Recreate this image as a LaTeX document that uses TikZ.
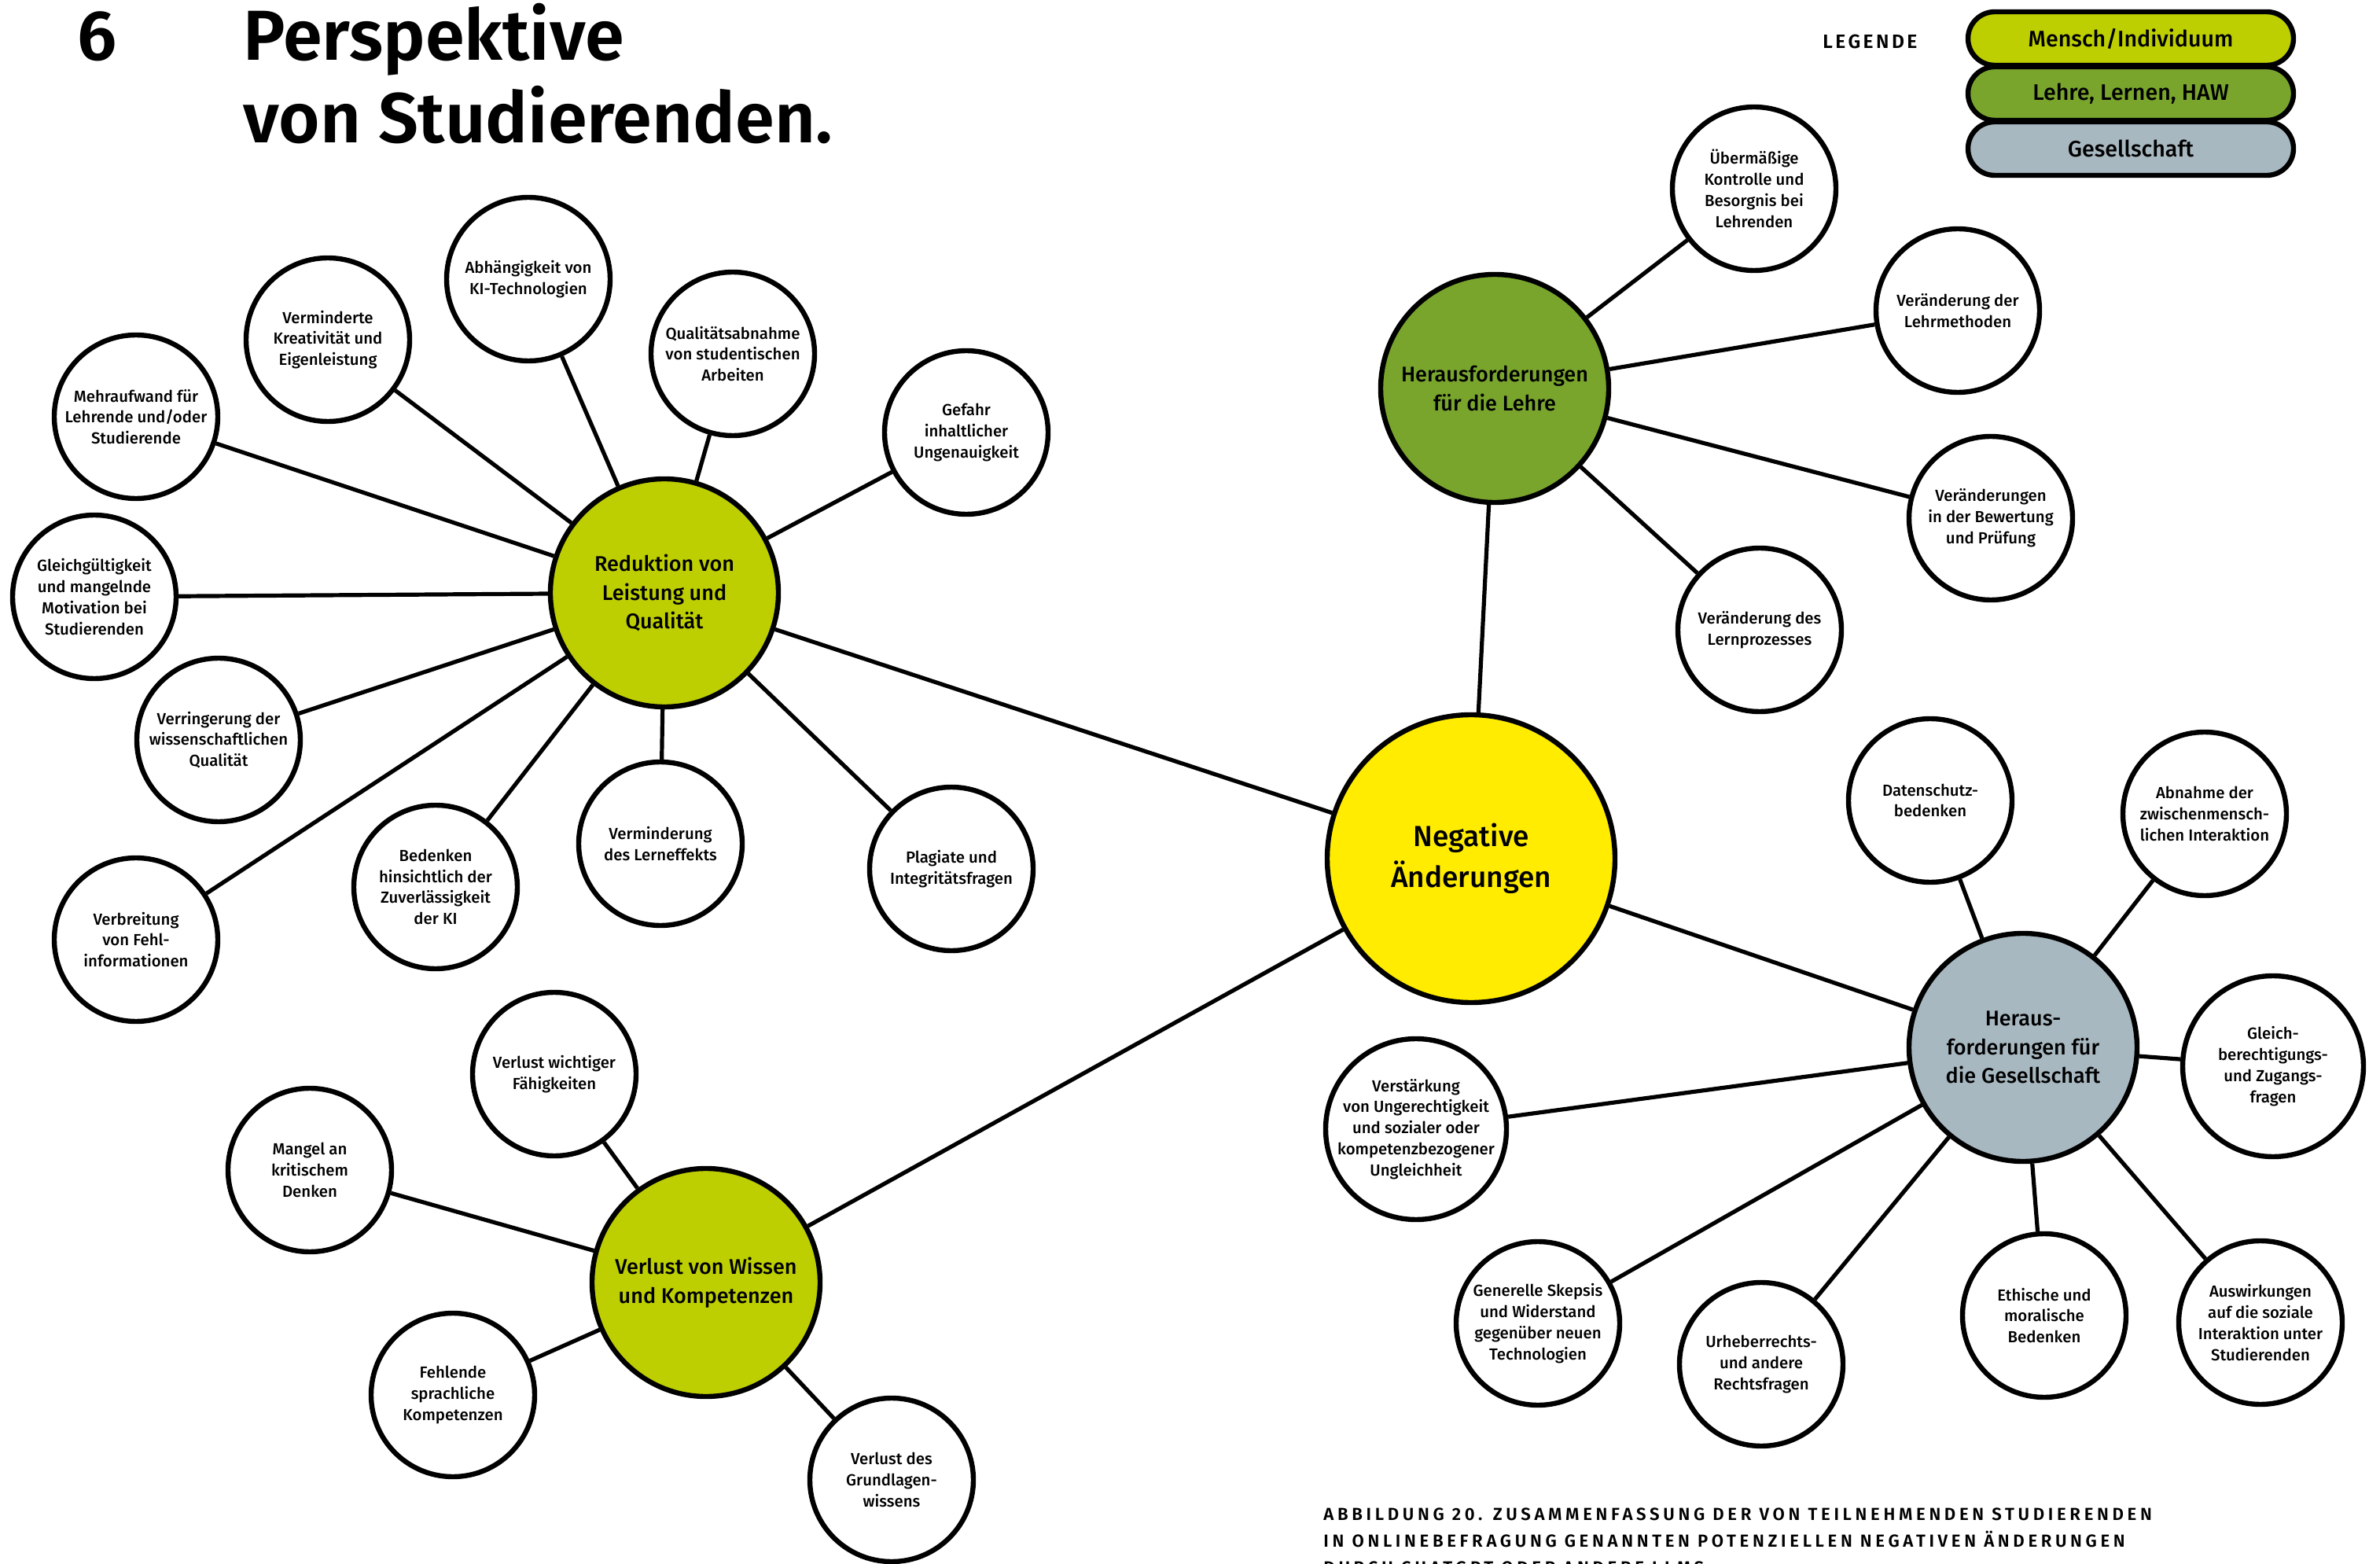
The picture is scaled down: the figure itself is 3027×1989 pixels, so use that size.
\documentclass[tikz,border=0pt]{standalone}
\usepackage{fontspec}
\setmainfont{Fira Sans}
\newfontfamily\fmed{Fira Sans Medium}
\newfontfamily\fsemi{Fira Sans SemiBold}
\newfontfamily\fsemils{Fira Sans SemiBold}[LetterSpace=14]
\newfontfamily\fsemilw{Fira Sans SemiBold}[LetterSpace=21]
\usetikzlibrary{backgrounds}
\definecolor{cyellow}{HTML}{FFEC00}
\definecolor{clime}{HTML}{BDCF00}
\definecolor{cgreen}{HTML}{79A52D}
\definecolor{cgray}{HTML}{A8B8C1}
\tikzset{
  bord/.style={draw=black, line width=3.2pt},
  leaf/.style={bord, circle, fill=white, minimum size=104pt, inner sep=0pt},
  bigleaf/.style={leaf, minimum size=115pt},
  hub/.style={bord, circle, minimum size=145pt, inner sep=0pt},
  core/.style={bord, circle, fill=cyellow, minimum size=183pt, inner sep=0pt},
  leaftext/.style={align=center, font=\fmed\fontsize{10.2}{13.4}\selectfont, inner sep=0pt},
  hubtext/.style={align=center, font=\fmed\fontsize{13.5}{18.2}\selectfont, inner sep=0pt},
  coretext/.style={align=center, font=\fmed\fontsize{18.5}{25.8}\selectfont, inner sep=0pt},
  conn/.style={line width=2.6pt},
  pill/.style={bord, rectangle, rounded corners=17pt, minimum width=207pt, minimum height=34pt, inner sep=0pt, font=\fmed\fontsize{14.3}{17}\selectfont},
  titletext/.style={anchor=base west, inner sep=0pt, font=\fsemi\fontsize{45}{52}\selectfont},
  captext/.style={anchor=base west, inner sep=0pt, font=\fsemilw\fontsize{11.1}{17}\selectfont}
}
\begin{document}
\begin{tikzpicture}[x=0.5pt, y=-0.5pt]
\useasboundingbox (0,0) rectangle (3027,1989);

% title
\node[titletext] (num) at (98,77) {6};
\node[titletext] (tit1) at (309,77) {Perspektive};
\node[titletext] (tit2) at (309,182) {von Studierenden.};

% legend
\node[anchor=base west, inner sep=0pt, font=\fsemils\fontsize{12.3}{14}\selectfont] (leg) at (2318,62) {LEGENDE};
\node[pill, fill=clime] (p1) at (2710,49) {Mensch/Individuum};
\node[pill, fill=cgreen] (p2) at (2710,119) {Lehre, Lernen, HAW};
\node[pill, fill=cgray] (p3) at (2710,189) {Gesellschaft};

% core and hubs
\node[core] (core) at (1871,1092) {};
\node[coretext] (core-t) at (core) {Negative\\Änderungen};
\node[hub, fill=clime] (red) at (845,754) {};
\node[hubtext] (red-t) at (red) {Reduktion von\\Leistung und\\Qualität};
\node[hub, fill=cgreen] (leh) at (1901,494) {};
\node[hubtext] (leh-t) at (leh) {Herausforderungen\\für die Lehre};
\node[hub, fill=cgray] (ges) at (2573,1332) {};
\node[hubtext] (ges-t) at (ges) {Heraus-\\forderungen für\\die Gesellschaft};
\node[hub, fill=clime] (ver) at (898,1631) {};
\node[hubtext] (ver-t) at (ver) {Verlust von Wissen\\und Kompetenzen};

% leaves of red
\node[leaf] (abh) at (672,355) {};
\node[leaftext] (abh-t) at (abh) {Abhängigkeit von\\KI-Technologien};
\node[leaf] (kre) at (417,432) {};
\node[leaftext] (kre-t) at (kre) {Verminderte\\Kreativität und\\Eigenleistung};
\node[leaf] (meh) at (173,530) {};
\node[leaftext] (meh-t) at (meh) {Mehraufwand für\\Lehrende und/oder\\Studierende};
\node[leaf] (gle) at (120,759) {};
\node[leaftext] (gle-t) at (gle) {Gleichgültigkeit\\und mangelnde\\Motivation bei\\Studierenden};
\node[leaf] (wis) at (278,941) {};
\node[leaftext] (wis-t) at (wis) {Verringerung der\\wissenschaftlichen\\Qualität};
\node[leaf] (feh) at (173,1195) {};
\node[leaftext] (feh-t) at (feh) {Verbreitung\\von Fehl-\\informationen};
\node[leaf] (zuv) at (554,1128) {};
\node[leaftext] (zuv-t) at (zuv) {Bedenken\\hinsichtlich der\\Zuverlässigkeit\\der KI};
\node[leaf] (lef) at (840,1073) {};
\node[leaftext] (lef-t) at (lef) {Verminderung\\des Lerneffekts};
\node[leaf] (pla) at (1210,1105) {};
\node[leaftext] (pla-t) at (pla) {Plagiate und\\Integritätsfragen};
\node[leaf] (gef) at (1229,550) {};
\node[leaftext] (gef-t) at (gef) {Gefahr\\inhaltlicher\\Ungenauigkeit};
\node[leaf] (qua) at (932,450) {};
\node[leaftext] (qua-t) at (qua) {Qualitätsabnahme\\von studentischen\\Arbeiten};

% leaves of leh
\node[leaf] (kon) at (2231,240) {};
\node[leaftext] (kon-t) at (kon) {Übermäßige\\Kontrolle und\\Besorgnis bei\\Lehrenden};
\node[leaf] (lme) at (2490,395) {};
\node[leaftext] (lme-t) at (lme) {Veränderung der\\Lehrmethoden};
\node[leaf] (bew) at (2532,659) {};
\node[leaftext] (bew-t) at (bew) {Veränderungen\\in der Bewertung\\und Prüfung};
\node[leaf] (lpr) at (2238,801) {};
\node[leaftext] (lpr-t) at (lpr) {Veränderung des\\Lernprozesses};

% leaves of ges
\node[leaf] (dat) at (2455,1018) {};
\node[leaftext] (dat-t) at (dat) {Datenschutz-\\bedenken};
\node[leaf] (abn) at (2804,1035) {};
\node[leaftext] (abn-t) at (abn) {Abnahme der\\zwischenmensch-\\lichen Interaktion};
\node[bigleaf] (gbz) at (2891,1356) {};
\node[leaftext] (gbz-t) at (gbz) {Gleich-\\berechtigungs-\\und Zugangs-\\fragen};
\node[bigleaf] (ung) at (1801,1436) {};
\node[leaftext] (ung-t) at (ung) {Verstärkung\\von Ungerechtigkeit\\und sozialer oder\\kompetenzbezogener\\Ungleichheit};
\node[leaf] (ske) at (1956,1683) {};
\node[leaftext] (ske-t) at (ske) {Generelle Skepsis\\und Widerstand\\gegenüber neuen\\Technologien};
\node[leaf] (urh) at (2240,1735) {};
\node[leaftext] (urh-t) at (urh) {Urheberrechts-\\und andere\\Rechtsfragen};
\node[leaf] (eth) at (2600,1673) {};
\node[leaftext] (eth-t) at (eth) {Ethische und\\moralische\\Bedenken};
\node[leaf] (aus) at (2875,1682) {};
\node[leaftext] (aus-t) at (aus) {Auswirkungen\\auf die soziale\\Interaktion unter\\Studierenden};

% leaves of ver
\node[leaf] (fae) at (705,1366) {};
\node[leaftext] (fae-t) at (fae) {Verlust wichtiger\\Fähigkeiten};
\node[leaf] (kri) at (394,1488) {};
\node[leaftext] (kri-t) at (kri) {Mangel an\\kritischem\\Denken};
\node[leaf] (spr) at (576,1774) {};
\node[leaftext] (spr-t) at (spr) {Fehlende\\sprachliche\\Kompetenzen};
\node[leaf] (gru) at (1134,1882) {};
\node[leaftext] (gru-t) at (gru) {Verlust des\\Grundlagen-\\wissens};

% caption
\node[captext] (cap1) at (1683,1933) {ABBILDUNG 20. ZUSAMMENFASSUNG DER VON TEILNEHMENDEN STUDIERENDEN};
\node[captext] (cap2) at (1683,1967) {IN ONLINEBEFRAGUNG GENANNTEN POTENZIELLEN NEGATIVEN ÄNDERUNGEN};
\node[captext] (cap3) at (1683,2001) {DURCH CHATGPT ODER ANDERE LLMS};

% connectors
\begin{scope}[on background layer]
  \fill[white] (0,0) rectangle (3027,1989);
  \foreach \a/\b in {core/red, core/leh, core/ges, core/ver,
    red/abh, red/kre, red/meh, red/gle, red/wis, red/feh, red/zuv, red/lef, red/pla, red/gef, red/qua,
    leh/kon, leh/lme, leh/bew, leh/lpr,
    ges/dat, ges/abn, ges/gbz, ges/ung, ges/ske, ges/urh, ges/eth, ges/aus,
    ver/fae, ver/kri, ver/spr, ver/gru}
    \draw[conn] (\a) -- (\b);
\end{scope}
\end{tikzpicture}
\end{document}
